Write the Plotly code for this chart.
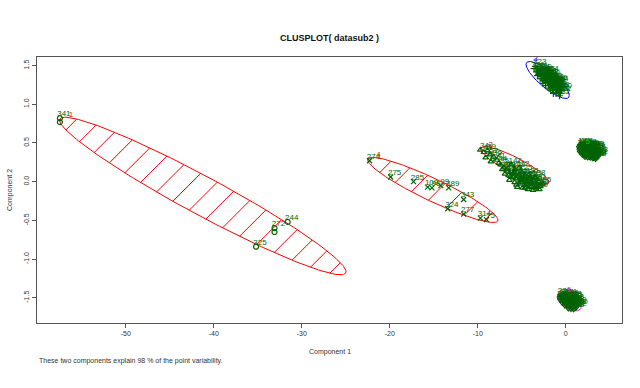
import numpy as np
import plotly.graph_objects as go

# ---------------- data ----------------
# cluster 1 (circles)
c1_x = [-57.5, -57.5, -31.6, -33.1, -33.1, -35.2]
c1_y = [0.82, 0.77, -0.52, -0.60, -0.65, -0.84]
c1_lab = ["341", "", "244", "272", "", "325"]

# cluster 2 (triangles)
c2_x = [-9.7, -9.3, -8.9, -8.6, -9.1, -8.2, -7.8, -8.5, -7.4, -7.0,
        -7.2, -6.6, -6.0, -5.4, -4.8, -4.2, -3.6,
        -6.9, -6.3, -5.7, -5.1, -4.5, -3.9, -3.3, -2.9,
        -6.4, -5.8, -5.2, -4.6, -4.0, -3.4, -3.0,
        -5.5, -4.9, -4.3, -3.7,
        -5.3, -5.8, -5.0, -4.2, -3.5, -6.2,
        -6.0, -5.1, -4.2, -3.3, -4.6, -5.6,
        -6.5, -5.9, -5.3, -4.7, -4.1, -3.9, -4.4, -5.0, -3.1, -2.6, -6.7, -7.6]
c2_y = [0.41, 0.38, 0.40, 0.35, 0.31, 0.32, 0.28, 0.26, 0.22, 0.18,
        0.16, 0.13, 0.10, 0.07, 0.05, 0.03, 0.01,
        0.10, 0.07, 0.04, 0.02, 0.00, -0.02, -0.04, -0.06,
        0.02, -0.01, -0.03, -0.05, -0.07, -0.09, -0.10,
        -0.07, -0.08, -0.10, -0.11,
        0.18, 0.16, 0.12, 0.09, 0.06, 0.22,
        0.06, 0.04, 0.00, -0.07, -0.08, -0.04,
        0.08, 0.12, 0.09, 0.07, 0.05, -0.06, -0.03, -0.01, 0.00, -0.03, 0.16, 0.24]
c2_lab = ["34", "43", "39", "52", "38", "36", "41", "47", "35", "49",
          "40", "19", "57", "63", "71", "88", "93",
          "101", "105", "117", "121", "128", "135", "14", "22",
          "27", "31", "45", "58", "66", "74", "80",
          "84", "90", "97", "103",
          "112", "109", "125", "131", "138", "142",
          "144", "146", "148", "7", "11", "16",
          "18", "23", "26", "29", "33", "37", "42", "46", "51", "55", "60", "44"]

# cluster 3 (plus)
c3_x = [-3.6, -3.2, -2.8, -2.4, -2.0, -1.6, -1.2,
        -3.1, -2.7, -2.3, -1.9, -1.5, -1.1, -0.8,
        -2.9, -2.5, -2.1, -1.7, -1.3, -0.9, -0.6,
        -2.3, -1.9, -1.5, -1.1, -0.7,
        -3.0, -2.6, -2.2, -1.8, -1.4, -2.4, -2.0, -1.6, -1.2, -1.7, -0.9, -3.4, -1.0, -1.9, -1.3,
        -3.3, -2.9, -2.5, -2.1, -1.7, -1.3, -2.7, -2.3, -1.9, -1.5, -1.1, -0.8, -2.6, -1.4,
        -0.5, -3.2, -2.0, -1.0]
c3_y = [1.46, 1.44, 1.43, 1.40, 1.36, 1.32, 1.28,
        1.39, 1.37, 1.35, 1.32, 1.28, 1.24, 1.20,
        1.33, 1.31, 1.28, 1.25, 1.21, 1.18, 1.14,
        1.24, 1.21, 1.18, 1.14, 1.11,
        1.43, 1.41, 1.38, 1.35, 1.30, 1.34, 1.30, 1.26, 1.22, 1.18, 1.27, 1.49, 1.15, 1.28, 1.25,
        1.42, 1.39, 1.36, 1.33, 1.29, 1.26, 1.33, 1.30, 1.24, 1.22, 1.19, 1.16, 1.27, 1.14,
        1.18, 1.37, 1.40, 1.29]
c3_lab = ["326", "331", "329", "335", "338", "342", "344",
          "346", "348", "350", "352", "354", "356", "358",
          "360", "362", "364", "366", "368", "370", "372",
          "374", "376", "378", "380", "382",
          "384", "386", "388", "390", "392", "394", "396", "398", "400", "402", "404",
          "323", "406", "408", "410",
          "412", "414", "416", "418", "420", "422", "424", "426", "428", "430", "432", "434",
          "436", "438", "440", "442", "444", "446"]

# cluster 4 (x)
c4_x = [-22.3, -19.9, -17.3, -15.7, -15.2, -14.2, -13.3, -11.6, -13.4, -11.6, -9.7, -9.0]
c4_y = [0.27, 0.06, 0.00, -0.07, -0.08, -0.05, -0.08, -0.23, -0.35, -0.42, -0.47, -0.49]
c4_lab = ["274", "275", "285", "109", "96", "99", "389", "343", "324", "277", "314", "75"]

# cluster 5 (diamond)
c5_x = [1.7, 2.0, 2.3, 2.6, 2.9, 3.2,
        1.6, 1.85, 2.1, 2.35, 2.6, 2.85, 3.1, 3.35,
        1.65, 1.9, 2.15, 2.4, 2.65, 2.9, 3.15, 3.4, 3.6,
        1.7, 1.95, 2.2, 2.45, 2.7, 2.95, 3.2, 3.45, 3.6,
        1.9, 2.15, 2.4, 2.65, 2.9, 3.15, 3.4,
        2.2, 2.5, 2.8, 3.1, 3.4,
        1.8, 2.25, 2.75, 3.25]
c5_y = [0.475, 0.47, 0.46, 0.45, 0.44, 0.43,
        0.45, 0.445, 0.44, 0.43, 0.42, 0.415, 0.41, 0.40,
        0.42, 0.415, 0.41, 0.40, 0.39, 0.385, 0.38, 0.37, 0.36,
        0.39, 0.385, 0.38, 0.37, 0.36, 0.355, 0.35, 0.34, 0.33,
        0.36, 0.355, 0.35, 0.34, 0.33, 0.325, 0.32,
        0.33, 0.325, 0.32, 0.31, 0.305,
        0.46, 0.45, 0.43, 0.42]
c5_lab = ["196", "151", "153", "155", "157", "159",
          "161", "163", "165", "167", "169", "171", "173", "175",
          "177", "179", "181", "183", "185", "187", "189", "191", "193",
          "195", "197", "199", "201", "203", "205", "207", "209", "211",
          "213", "215", "217", "152", "154", "156", "158",
          "160", "162", "164", "166", "168",
          "170", "172", "174", "176"]

# cluster 6 (down triangle)
c6_x = [-0.6, -0.3, 0.0, 0.3, 0.6,
        -0.65, -0.4, -0.15, 0.1, 0.35, 0.6, 0.85,
        -0.6, -0.35, -0.1, 0.15, 0.4, 0.65, 0.9, 1.15,
        -0.4, -0.15, 0.1, 0.35, 0.6, 0.85, 1.1, 1.3,
        -0.1, 0.15, 0.4, 0.65, 0.9, 1.15,
        0.3, 0.6, 0.9,
        -0.45, 0.2, 0.75, -0.2, 0.5]
c6_y = [-1.47, -1.475, -1.48, -1.49, -1.50,
        -1.50, -1.505, -1.51, -1.515, -1.52, -1.53, -1.54,
        -1.53, -1.535, -1.54, -1.545, -1.55, -1.56, -1.57, -1.58,
        -1.565, -1.57, -1.575, -1.58, -1.585, -1.59, -1.60, -1.61,
        -1.60, -1.605, -1.61, -1.615, -1.62, -1.63,
        -1.64, -1.645, -1.65,
        -1.485, -1.50, -1.52, -1.555, -1.595]
c6_lab = ["220", "222", "224", "226", "228",
          "230", "232", "234", "236", "238", "240", "242",
          "246", "248", "250", "252", "254", "256", "258", "260",
          "262", "264", "266", "268", "270", "276", "278", "280",
          "282", "284", "286", "288", "290", "292",
          "294", "296", "298",
          "221", "223", "225", "227", "229"]

# cluster ellipses: centre, half major axis vector U, half minor axis vector V
clus_names = ["1", "2", "3", "4", "5", "6"]
ell_cx = [-41.25, -5.80, -2.05, -15.10, 2.60, 0.40]
ell_cy = [-0.185, 0.209, 1.314, -0.107, 0.39, -1.55]
ell_ux = [16.25, 3.86, 2.39, 7.39, 1.20, 1.30]
ell_uy = [-0.995, -0.226, -0.226, -0.40, -0.08, -0.09]
ell_vx = [1.03, 0.42, 0.58, 0.55, 0.30, 0.40]
ell_vy = [0.217, 0.092, 0.079, 0.131, 0.06, 0.08]
ell_col = ["#ff0000", "#ff0000", "#0000ff", "#ff0000", "#00cc00", "#ff00ff"]
ell_shade = [True, True, False, True, False, False]

x_ticks = [-50, -40, -30, -20, -10, 0]
y_ticks = [-1.5, -1.0, -0.5, 0.0, 0.5, 1.0, 1.5]
y_tick_text = ["-1.5", "-1.0", "-0.5", "0.0", "0.5", "1.0", "1.5"]

# ---------------- layout geometry ----------------
W, H = 640, 388
ML, MR, MT, MB = 37, 18, 57, 65
XR = [-60.1, 6.4]
YR = [-1.826, 1.611]
sx = (W - ML - MR) / (XR[1] - XR[0])
sy = (H - MT - MB) / (YR[1] - YR[0])

FONT = "Liberation Sans, Arial, sans-serif"
PTCOL = "#006400"

fig = go.Figure()

tt = np.linspace(0, 2 * np.pi, 200)


def hatch(cx, cy, ux, uy, vx, vy, spacing=18.0):
    C = np.array([(cx - XR[0]) * sx, (YR[1] - cy) * sy])
    A = np.array([ux * sx, -uy * sy])
    B = np.array([vx * sx, -vy * sy])
    n = np.array([1.0, 1.0]) / np.sqrt(2)
    nC, nA, nB = n @ C, n @ A, n @ B
    R = np.hypot(nA, nB)
    phi = np.arctan2(nB, nA)
    xs, ys = [], []
    k0 = int(np.ceil((nC - R) / spacing))
    k1 = int(np.floor((nC + R) / spacing))
    for k in range(k0, k1 + 1):
        r = (k * spacing - nC) / R
        if abs(r) >= 0.999:
            continue
        d = np.arccos(r)
        for t in (phi + d, phi - d):
            P = C + np.cos(t) * A + np.sin(t) * B
            xs.append(XR[0] + P[0] / sx)
            ys.append(YR[1] - P[1] / sy)
        xs.append(None)
        ys.append(None)
    return xs, ys


for i in range(len(clus_names)):
    ex = ell_cx[i] + np.cos(tt) * ell_ux[i] + np.sin(tt) * ell_vx[i]
    ey = ell_cy[i] + np.cos(tt) * ell_uy[i] + np.sin(tt) * ell_vy[i]
    fig.add_trace(go.Scatter(x=ex, y=ey, mode="lines",
                             line=dict(color=ell_col[i], width=1), hoverinfo="skip"))
    if ell_shade[i]:
        hx, hy = hatch(ell_cx[i], ell_cy[i], ell_ux[i], ell_uy[i], ell_vx[i], ell_vy[i])
        fig.add_trace(go.Scatter(x=hx, y=hy, mode="lines",
                                 line=dict(color=ell_col[i], width=1), hoverinfo="skip"))

clusters = [
    (c1_x, c1_y, c1_lab, "circle-open"),
    (c2_x, c2_y, c2_lab, "triangle-up-open"),
    (c3_x, c3_y, c3_lab, "cross-thin-open"),
    (c4_x, c4_y, c4_lab, "x-thin-open"),
    (c5_x, c5_y, c5_lab, "diamond-open"),
    (c6_x, c6_y, c6_lab, "triangle-down-open"),
]
LAB_DX = 4.0 / sx  # point labels sit just above, slightly right of the point
for cx, cy, lab, sym in clusters:
    fig.add_trace(go.Scatter(
        x=cx, y=cy, mode="markers",
        marker=dict(symbol=sym, size=5, color=PTCOL, line=dict(color=PTCOL, width=1.2)),
        cliponaxis=False))
for cx, cy, lab, sym in clusters:
    fig.add_trace(go.Scatter(
        x=[v + LAB_DX for v in cx], y=cy, mode="text", text=lab, textposition="top center",
        textfont=dict(family=FONT, size=8, color=PTCOL), cliponaxis=False))

# cluster labels next to the topmost point of each ellipse
lx, ly = [], []
for i in range(6):
    ay, by = ell_uy[i] * sy, ell_vy[i] * sy
    nrm = np.hypot(ay, by)
    ct, st = ay / nrm, by / nrm
    lx.append(ell_cx[i] + ct * ell_ux[i] + st * ell_vx[i] + 6.0 / sx)
    ly.append(ell_cy[i] + ct * ell_uy[i] + st * ell_vy[i] + 2.0 / sy)
for i in range(6):
    fig.add_trace(go.Scatter(
        x=[lx[i]], y=[ly[i]], mode="text", text=[clus_names[i]], textposition="middle center",
        textfont=dict(family=FONT, size=8, color=ell_col[i]), cliponaxis=False))

axis_common = dict(showgrid=False, zeroline=False, showline=True, mirror=True,
                   linecolor="#555555", linewidth=1, ticks="outside", ticklen=4,
                   tickcolor="#555555", tickfont=dict(family=FONT, size=7, color="#333333"))

fig.update_layout(
    width=W, height=H, margin=dict(l=ML, r=MR, t=MT, b=MB, autoexpand=False),
    paper_bgcolor="white", plot_bgcolor="white", showlegend=False,
    title=dict(text="<b>CLUSPLOT( datasub2 )</b>", x=(ML + (W - ML - MR) / 2) / W,
               xanchor="center", y=1 - 38 / H, yanchor="middle",
               font=dict(family=FONT, size=9, color="#111111")),
    xaxis=dict(range=XR, tickvals=x_ticks, ticktext=[str(v) for v in x_ticks], **axis_common),
    yaxis=dict(range=YR, tickvals=y_ticks, ticktext=y_tick_text, tickangle=-90, **axis_common),
    annotations=[
        dict(text="Component 1", xref="paper", yref="paper", x=0.5, y=-(352 - (H - MB)) / (H - MT - MB),
             xanchor="center", yanchor="middle", showarrow=False,
             font=dict(family=FONT, size=7, color="#333333")),
        dict(text="Component 2", xref="paper", yref="paper", x=-(ML - 10) / (W - ML - MR), y=0.5,
             xanchor="center", yanchor="middle", textangle=-90, showarrow=False,
             font=dict(family=FONT, size=7, color="#333333")),
        dict(text="These two components explain 98 % of the point variability.",
             xref="paper", yref="paper", x=0, y=-(361 - (H - MB)) / (H - MT - MB),
             xanchor="left", yanchor="middle", showarrow=False,
             font=dict(family=FONT, size=7, color="#333333")),
    ],
)

fig.write_html("out.html", config={"displayModeBar": False},
               post_script="document.body.style.margin='0px';")
